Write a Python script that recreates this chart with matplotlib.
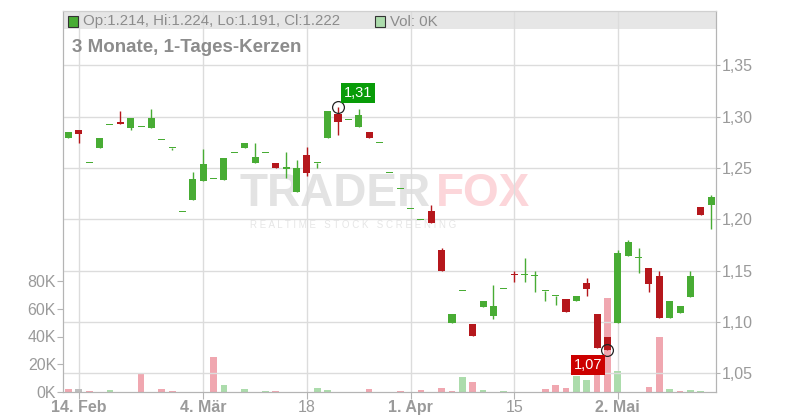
import numpy as np
import matplotlib
matplotlib.use("Agg")
import matplotlib.pyplot as plt
from matplotlib.patches import Rectangle
from matplotlib.ticker import FixedLocator, FuncFormatter

plt.rcParams['font.family'] = ['Liberation Sans', 'DejaVu Sans']

# ---------------- data ----------------
opens = [1.2792, 1.2876, 1.2551, 1.2694, 1.2922, 1.2954, 1.2889, 1.2902, 1.2889, 1.2775,
         1.2697, 1.2072, 1.2186, 1.2372, 1.2395, 1.2388, 1.2648, 1.2694, 1.2548, 1.2648,
         1.2554, 1.2495, 1.2264, 1.2632, 1.2551, 1.2792, 1.3023, 1.2971, 1.2899, 1.2847,
         1.2746, 1.2453, 1.2297, 1.2102, 1.1994, 1.2085, 1.1704, 1.0992, 1.1301, 1.0982,
         1.1151, 1.1054, 1.1320, 1.1462, 1.1457, 1.1444, 1.1301, 1.1252, 1.1226, 1.1200,
         1.1382, 1.1080, 1.0855, 1.0992, 1.1646, 1.1623, 1.1529, 1.1451, 1.1040, 1.1089,
         1.1246, 1.2124, 1.214]
closes = [1.2847, 1.2837, 1.2551, 1.2798, 1.2922, 1.2928, 1.2984, 1.2902, 1.2984, 1.2775,
          1.2697, 1.2072, 1.2398, 1.2544, 1.2395, 1.2603, 1.2648, 1.2749, 1.2613, 1.2648,
          1.2499, 1.2495, 1.2505, 1.2450, 1.2551, 1.3052, 1.2948, 1.2971, 1.3013, 1.2792,
          1.2746, 1.2453, 1.2297, 1.2102, 1.1994, 1.1962, 1.1493, 1.1080, 1.1301, 1.0868,
          1.1206, 1.1158, 1.1320, 1.1458, 1.1457, 1.1460, 1.1301, 1.1252, 1.1093, 1.1252,
          1.1317, 1.0751, 1.0725, 1.1675, 1.1783, 1.1623, 1.1373, 1.1040, 1.1206, 1.1158,
          1.1451, 1.2046, 1.222]
highs = [1.2847, 1.2876, 1.2551, 1.2798, 1.2922, 1.3052, 1.2993, 1.2902, 1.3072, 1.2775,
         1.2697, 1.2072, 1.2466, 1.2691, 1.2395, 1.2603, 1.2648, 1.2749, 1.2740, 1.2648,
         1.2554, 1.2661, 1.2583, 1.2701, 1.2551, 1.3052, 1.3098, 1.2971, 1.3072, 1.2847,
         1.2746, 1.2453, 1.2297, 1.2102, 1.1994, 1.2144, 1.1724, 1.1080, 1.1301, 1.0982,
         1.1206, 1.1363, 1.1320, 1.1499, 1.1626, 1.1499, 1.1301, 1.1252, 1.1226, 1.1252,
         1.1431, 1.1080, 1.0855, 1.1705, 1.1802, 1.1724, 1.1529, 1.1499, 1.1206, 1.1158,
         1.1499, 1.2124, 1.224]
lows = [1.2792, 1.2740, 1.2551, 1.2694, 1.2922, 1.2928, 1.2870, 1.2902, 1.2889, 1.2775,
        1.2674, 1.2072, 1.2186, 1.2372, 1.2395, 1.2388, 1.2648, 1.2694, 1.2548, 1.2648,
        1.2499, 1.2401, 1.2264, 1.2421, 1.2502, 1.2792, 1.2821, 1.2971, 1.2899, 1.2792,
        1.2746, 1.2453, 1.2297, 1.2102, 1.1994, 1.1962, 1.1493, 1.0992, 1.1301, 1.0868,
        1.1151, 1.1031, 1.1320, 1.1386, 1.1386, 1.1288, 1.1200, 1.1167, 1.1093, 1.1200,
        1.1249, 1.0751, 1.0725, 1.0992, 1.1646, 1.1480, 1.1294, 1.1040, 1.1040, 1.1089,
        1.1246, 1.2046, 1.191]
volumes_k = [2.1, 2.1, 0.7, 0, 1.4, 0, 0, 12.9, 0, 2.1,
             0.7, 0, 0, 0, 25.4, 5.0, 0, 2.1, 0, 0.7,
             0.7, 0, 0, 0, 2.9, 1.4, 0, 0, 0, 2.1,
             0, 0, 0.7, 0, 1.4, 0, 2.9, 0.7, 10.8, 7.2,
             1.4, 0, 0.7, 0, 0, 0, 2.1, 5.0, 2.9, 11.5,
             8.6, 20.0, 67.7, 15.1, 0, 0, 3.6, 39.5, 2.1, 0.7,
             1.4, 0.7, 0]
# d = down day, u = up day, n = unchanged
volume_dir = ['d', 'n', 'd', 'n', 'u', 'n', 'n', 'd', 'n', 'd',
              'd', 'n', 'n', 'n', 'd', 'u', 'n', 'u', 'n', 'u',
              'd', 'n', 'n', 'n', 'u', 'u', 'n', 'n', 'n', 'd',
              'n', 'n', 'd', 'n', 'd', 'n', 'd', 'd', 'u', 'd',
              'u', 'n', 'u', 'n', 'n', 'n', 'd', 'd', 'd', 'u',
              'u', 'd', 'd', 'u', 'n', 'n', 'd', 'd', 'u', 'd',
              'u', 'u', 'n']
date_tick_idx = [1, 13, 23, 33, 43, 53]
date_tick_labels = ["14. Feb", "4. Mär", "18", "1. Apr", "15", "2. Mai"]
date_tick_bold = [True, True, False, True, False, True]
price_ticks = [1.05, 1.10, 1.15, 1.20, 1.25, 1.30, 1.35]
volume_ticks_k = [0, 20, 40, 60, 80]
marked_high_idx = 26
marked_low_idx = 52
header_text = "Op:1.214, Hi:1.224, Lo:1.191, Cl:1.222"
vol_text = "Vol: 0K"
title_text = "3 Monate, 1-Tages-Kerzen"

# ---------------- styles ----------------
GREEN = '#48ac34'
RED = '#b5171c'
VOLC = {'u': '#acdcac', 'd': '#f0a7b0', 'n': '#bdbdbd'}
GRID = '#dcdcdc'
SPINE = '#b4b4b4'
LABEL = '#9a9a9a'

o = np.array(opens); c = np.array(closes); h = np.array(highs); l = np.array(lows)
x = np.arange(len(o))

W, H = 800, 420
fig = plt.figure(figsize=(8, 4.2), dpi=100)
left_px, right_px, top_px, bot_px = 63, 716, 11, 392
ax_v = fig.add_axes([left_px / W, (H - bot_px) / H, (right_px - left_px) / W, (bot_px - top_px) / H])
ax_p = ax_v.twinx()

# volume axis
ax_v.set_axisbelow(True)
ax_v.bar(x, volumes_k, width=0.65, color=[VOLC[d] for d in volume_dir], zorder=2)
ax_v.set_xlim(-0.53, 62.47)
ax_v.set_ylim(0, (bot_px - top_px) / 1.3875)
ax_v.yaxis.set_major_locator(FixedLocator(volume_ticks_k))
ax_v.yaxis.set_major_formatter(FuncFormatter(lambda v, p: f"{int(v)}K"))
ax_v.set_xticks(date_tick_idx)
ax_v.set_xticklabels(date_tick_labels)
for lab, b in zip(ax_v.get_xticklabels(), date_tick_bold):
    lab.set_fontweight('bold' if b else 'normal')
ax_v.grid(axis='x', color=GRID, linewidth=1.0)
ax_v.tick_params(axis='x', length=5, color=SPINE, labelcolor=LABEL, labelsize=11.5, pad=1)
ax_v.tick_params(axis='y', length=4, color=SPINE, labelcolor=LABEL, labelsize=11.5, pad=1)

# header band
ax_v.add_patch(Rectangle((0, 0.952), 1, 0.048, transform=ax_v.transAxes,
                         facecolor='#e6e6e6', edgecolor='none', zorder=0.1))

# watermark
ax_v.text(240 / W, 1 - 194 / H, "TRADER", transform=fig.transFigure, fontsize=33,
          fontweight='bold', color='#e3e3e3', va='center', ha='left', zorder=0.3)
ax_v.text(436 / W, 1 - 194 / H, "FOX", transform=fig.transFigure, fontsize=33,
          fontweight='bold', color='#fcd6da', va='center', ha='left', zorder=0.3)
ax_v.text(250 / W, 1 - 225 / H, "R E A L T I M E   S T O C K   S C R E E N I N G",
          transform=fig.transFigure, fontsize=7, color='#e6e6e6', va='center', ha='left', zorder=0.3)

# price axis
ax_p.set_axisbelow(True)
ax_p.set_ylim(1.0318, 1.4031)
ax_p.yaxis.set_major_locator(FixedLocator(price_ticks))
ax_p.yaxis.set_major_formatter(FuncFormatter(lambda v, p: f"{v:.2f}".replace('.', ',')))
ax_p.grid(axis='y', color=GRID, linewidth=1.0)
ax_p.tick_params(axis='y', length=3, color=SPINE, labelcolor=LABEL, labelsize=11.5, pad=1)

up = c >= o
cols = np.where(up, GREEN, RED)
ax_p.vlines(x, l, h, colors=cols, linewidth=1.0, zorder=3)
body_bottom = np.minimum(o, c)
body_h = np.maximum(np.abs(c - o), 0.0012)
ax_p.bar(x, body_h, bottom=body_bottom, width=0.68, color=cols, linewidth=0, zorder=4)

# markers and labels
ax_p.plot(marked_high_idx, h[marked_high_idx], marker='o', ms=8.5, mfc='none', mec='#222222',
          mew=0.9, zorder=6)
ax_p.annotate(f"{h[marked_high_idx]:.2f}".replace('.', ','), xy=(marked_high_idx, h[marked_high_idx]),
              xytext=(6, 7), textcoords='offset pixels', ha='left', va='bottom', color='white',
              fontsize=10.5, zorder=7,
              bbox=dict(boxstyle='square,pad=0.2', facecolor='#089c08', edgecolor='none'))
ax_p.plot(marked_low_idx, l[marked_low_idx], marker='o', ms=8.5, mfc='none', mec='#222222',
          mew=0.9, zorder=6)
ax_p.annotate(f"{l[marked_low_idx]:.2f}".replace('.', ','), xy=(marked_low_idx, l[marked_low_idx]),
              xytext=(-5, -8), textcoords='offset pixels', ha='right', va='top', color='white',
              fontsize=10.5, zorder=7,
              bbox=dict(boxstyle='square,pad=0.2', facecolor='#cc0000', edgecolor='none'))

for a in (ax_v, ax_p):
    for s in ('left', 'right', 'bottom'):
        a.spines[s].set_color(SPINE)
    a.spines['top'].set_color('#d0d0d0')

# header texts
fig.patches.append(Rectangle((68 / W, 1 - 26.5 / H), 10 / W, 10 / H, transform=fig.transFigure,
                             facecolor=GREEN, edgecolor='#333333', linewidth=0.8))
fig.text(83 / W, 1 - 21.5 / H, header_text, fontsize=10.8, color='#8c8c8c', va='center', ha='left')
fig.patches.append(Rectangle((375 / W, 1 - 26.5 / H), 10 / W, 10 / H, transform=fig.transFigure,
                             facecolor='#acdcac', edgecolor='#333333', linewidth=0.8))
fig.text(390 / W, 1 - 21.5 / H, vol_text, fontsize=10.8, color='#8c8c8c', va='center', ha='left')
fig.text(72 / W, 1 - 47.5 / H, title_text, fontsize=13.5, fontweight='bold', color='#8c8c8c',
         va='center', ha='left')

fig.savefig('out.png', dpi=100)
